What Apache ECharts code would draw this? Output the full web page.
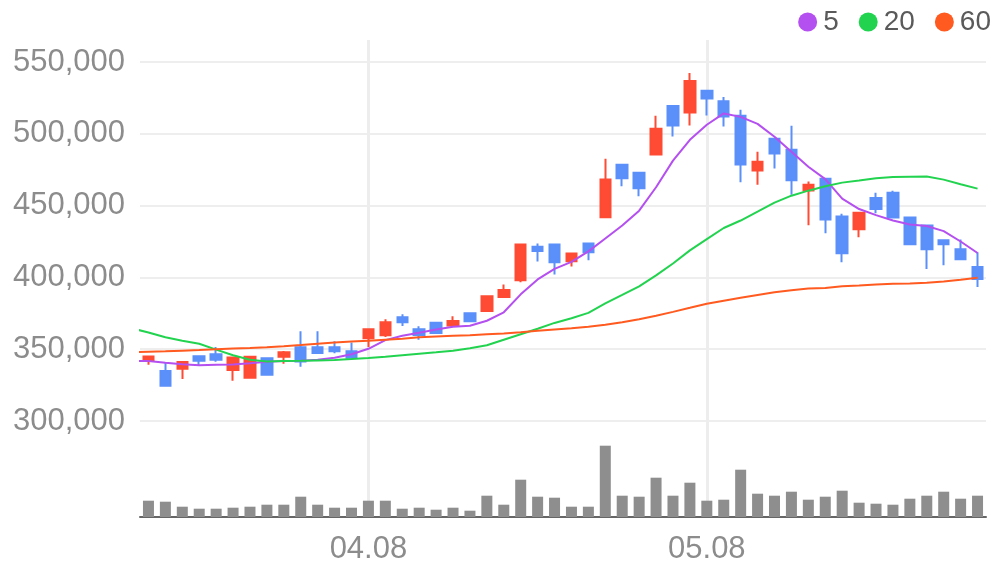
<!DOCTYPE html>
<html>
<head>
<meta charset="utf-8">
<script src="https://cdn.jsdelivr.net/npm/echarts@6/dist/echarts.min.js"></script>
<style>
  html, body { margin: 0; padding: 0; background: #fff; }
  #chart { width: 996px; height: 567px; }
</style>
</head>
<body>
<div id="chart"></div>
<script>
var dates = ['03.20', '03.21', '03.24', '03.25', '03.26', '03.27', '03.28', '03.31', '04.01',
  '04.02', '04.03', '04.04', '04.07', '04.08', '04.09', '04.10', '04.11', '04.14', '04.15',
  '04.16', '04.17', '04.18', '04.21', '04.22', '04.23', '04.24', '04.25', '04.28', '04.29',
  '04.30', '05.01', '05.02', '05.07', '05.08', '05.09', '05.12', '05.13', '05.14', '05.15',
  '05.16', '05.19', '05.20', '05.21', '05.22', '05.23', '05.26', '05.27', '05.28', '05.29', '05.30'];

// labelled days, also get a vertical guide line
var markedDays = ['04.08', '05.08'];

// day before the window: the MA lines come in from it and get clipped at the left edge
var leadDay = '03.19';

// [open, close, low, high]
var candles = [
  [341700, 344900, 339100, 345000], [334900, 324500, 324500, 340800], [336300, 341000, 329200, 341000],
  [345100, 341900, 338900, 345800], [346500, 342600, 341200, 351600], [335600, 344200, 328000, 344200],
  [330100, 344700, 330100, 345300], [343700, 332200, 332200, 343700], [344700, 347900, 339800, 348800],
  [351400, 341500, 337700, 362500], [351400, 347400, 347400, 362500], [351400, 348600, 347200, 355600],
  [348600, 344000, 343700, 354700], [357600, 363900, 351600, 363900], [359700, 368700, 358500, 370800],
  [372200, 368700, 366200, 374300], [363900, 359900, 356500, 366000], [368500, 361300, 361300, 368500],
  [366500, 369600, 366000, 372900], [375000, 369400, 369400, 375000], [376600, 386800, 376600, 386800],
  [386300, 391200, 385600, 395100], [398100, 422900, 396700, 422900], [421300, 418300, 411100, 423600],
  [422900, 410600, 402100, 422900], [411300, 416700, 407600, 417400], [423600, 417600, 412000, 423600],
  [441900, 468100, 441900, 482600], [478500, 469000, 463400, 478500], [472900, 462000, 456500, 472900],
  [485600, 503500, 485600, 512500], [519400, 505800, 498100, 519400], [514800, 536800, 505800, 542400],
  [529900, 524500, 512700, 529900], [522700, 512000, 505100, 525700], [512500, 478700, 466200, 516700],
  [474500, 480600, 464600, 487500], [496500, 486300, 475900, 496500], [488900, 467600, 457600, 505600],
  [460600, 464600, 436300, 466700], [468700, 440300, 430800, 468700], [442400, 416900, 410600, 444400],
  [433500, 445100, 428000, 445100], [455300, 447700, 444600, 459000], [459000, 441700, 441000, 460400],
  [441700, 423100, 423100, 442400], [436100, 419600, 405800, 436800], [425900, 423100, 408500, 425900],
  [419600, 412700, 412700, 426400], [407200, 398800, 393300, 417600]];

var volumes = [
  163000, 153000, 103000, 83000, 83000, 93000, 103000, 123000, 123000, 203000,
  123000, 93000, 93000, 163000, 163000, 83000, 93000, 73000, 93000, 63000,
  213000, 123000, 373000, 203000, 193000, 103000, 103000, 713000, 213000, 203000,
  393000, 213000, 343000, 163000, 173000, 473000, 233000, 213000, 253000, 173000,
  203000, 263000, 143000, 133000, 123000, 183000, 213000, 253000, 183000, 213000];

// moving averages, first value belongs to leadDay
var ma5 = [342000, 341700, 340600, 339600, 338900, 339200, 339400, 340300, 341300, 341700, 341900,
  342700, 344100, 346500, 350300, 356300, 359400, 361500, 363700, 365600, 366300,
  369800, 375700, 388200, 398600, 405900, 410800, 418100, 427100, 436100, 446500,
  462800, 481300, 495800, 506300, 514200, 511800, 506900, 497900, 487500, 477100,
  468400, 454900, 447600, 443400, 439600, 436800, 435800, 432200, 425000, 417000];

var ma20 = [364600, 361600, 358300, 355900, 353800, 349700, 345800, 342700, 341500, 341700, 341900,
  342200, 342500, 343100, 343800, 344700, 345800, 346900, 347900, 349000, 350700,
  352800, 356600, 360400, 364200, 368300, 371500, 375300, 381900, 387800, 393800,
  401400, 409700, 418800, 426700, 434400, 439600, 445800, 452100, 456900, 460400,
  463500, 466000, 467400, 469100, 469900, 470100, 470300, 468100, 464900, 461800];

var ma60 = [347900, 348300, 348600, 349000, 349400, 350000, 350500, 350900, 351400, 352100, 352900,
  353800, 354700, 355300, 355900, 356600, 357300, 358300, 358900, 359300, 359700,
  360400, 361000, 361800, 362800, 363700, 364600, 365600, 367000, 368800, 370800,
  373300, 376000, 378800, 381700, 383800, 385800, 387800, 389600, 391000, 392200,
  392700, 393800, 394400, 395100, 395500, 395800, 396300, 397200, 398400, 399800];

var upColor = '#ff4b33';
var downColor = '#5b8ff9';
var labelFont = 'Liberation Sans, Arial, sans-serif';

function isMarked(index, value) {
  return markedDays.indexOf(value) >= 0;
}

function maLine(name, data, color) {
  return {
    name: name,
    type: 'line',
    xAxisIndex: 2,
    yAxisIndex: 0,
    data: data,
    symbol: 'none',
    clip: true,
    lineStyle: { width: 2, color: color },
    itemStyle: { color: color },
    z: 4
  };
}

var chart = echarts.init(document.getElementById('chart'));

var option = {
  animation: false,
  backgroundColor: '#fff',
  legend: {
    data: ['5', '20', '60'],
    right: 0,
    top: 3,
    icon: 'circle',
    itemWidth: 19,
    itemHeight: 19,
    itemGap: 20,
    textStyle: { color: '#5a5a5a', fontSize: 28, fontFamily: labelFont, padding: [0, 0, 0, 1] }
  },
  grid: [
    { left: 140, right: 10, top: 62, bottom: 146 },
    { left: 140, right: 10, top: 40, bottom: 50 }
  ],
  xAxis: [
    {
      type: 'category',
      gridIndex: 0,
      data: dates,
      boundaryGap: true,
      show: false
    },
    {
      type: 'category',
      gridIndex: 1,
      data: dates,
      boundaryGap: true,
      axisLine: { lineStyle: { color: '#666', width: 2 } },
      axisTick: { alignWithLabel: true, interval: isMarked, length: 6, lineStyle: { color: '#666', width: 2 } },
      axisLabel: { interval: isMarked, color: '#8c8c8c', fontSize: 31, fontFamily: labelFont, margin: 17 },
      splitLine: { show: false }
    },
    {
      // same bands as axis 0, plus the lead day just off the left edge
      type: 'category',
      gridIndex: 0,
      data: [leadDay].concat(dates),
      min: 1,
      max: 50,
      boundaryGap: true,
      show: false
    }
  ],
  yAxis: [
    {
      type: 'value',
      gridIndex: 0,
      min: 300000,
      max: 550000,
      interval: 50000,
      axisLine: { show: false },
      axisTick: { show: false },
      axisLabel: {
        color: '#8c8c8c', fontSize: 31, fontFamily: labelFont, margin: 15,
        formatter: function (v) { return v.toLocaleString('en-US'); }
      },
      splitLine: { lineStyle: { color: '#eeeeee', width: 2 } }
    },
    {
      type: 'value',
      gridIndex: 1,
      min: 0,
      max: 4770000,
      show: false,
      splitLine: { show: false }
    }
  ],
  series: [
    {
      // holds only the vertical guides, drawn under everything
      name: 'guides',
      type: 'line',
      xAxisIndex: 1,
      yAxisIndex: 1,
      data: [],
      silent: true,
      z: 0,
      markLine: {
        z: 0,
        silent: true,
        symbol: 'none',
        label: { show: false },
        lineStyle: { color: '#ededed', width: 3, type: 'solid' },
        emphasis: { disabled: true },
        data: markedDays.map(function (d) { return { xAxis: d }; })
      }
    },
    {
      name: 'volume',
      type: 'bar',
      xAxisIndex: 1,
      yAxisIndex: 1,
      barWidth: 11,
      itemStyle: { color: '#8e8e8e' },
      data: volumes,
      z: 2
    },
    {
      name: 'price',
      type: 'candlestick',
      xAxisIndex: 0,
      yAxisIndex: 0,
      barWidth: 11,
      itemStyle: {
        color: upColor,
        color0: downColor,
        borderColor: upColor,
        borderColor0: downColor,
        borderWidth: 2
      },
      data: candles,
      z: 3
    },
    maLine('5', ma5, '#b44ff0'),
    maLine('20', ma20, '#22d34f'),
    maLine('60', ma60, '#ff5a20')
  ]
};

chart.setOption(option);
</script>
</body>
</html>
